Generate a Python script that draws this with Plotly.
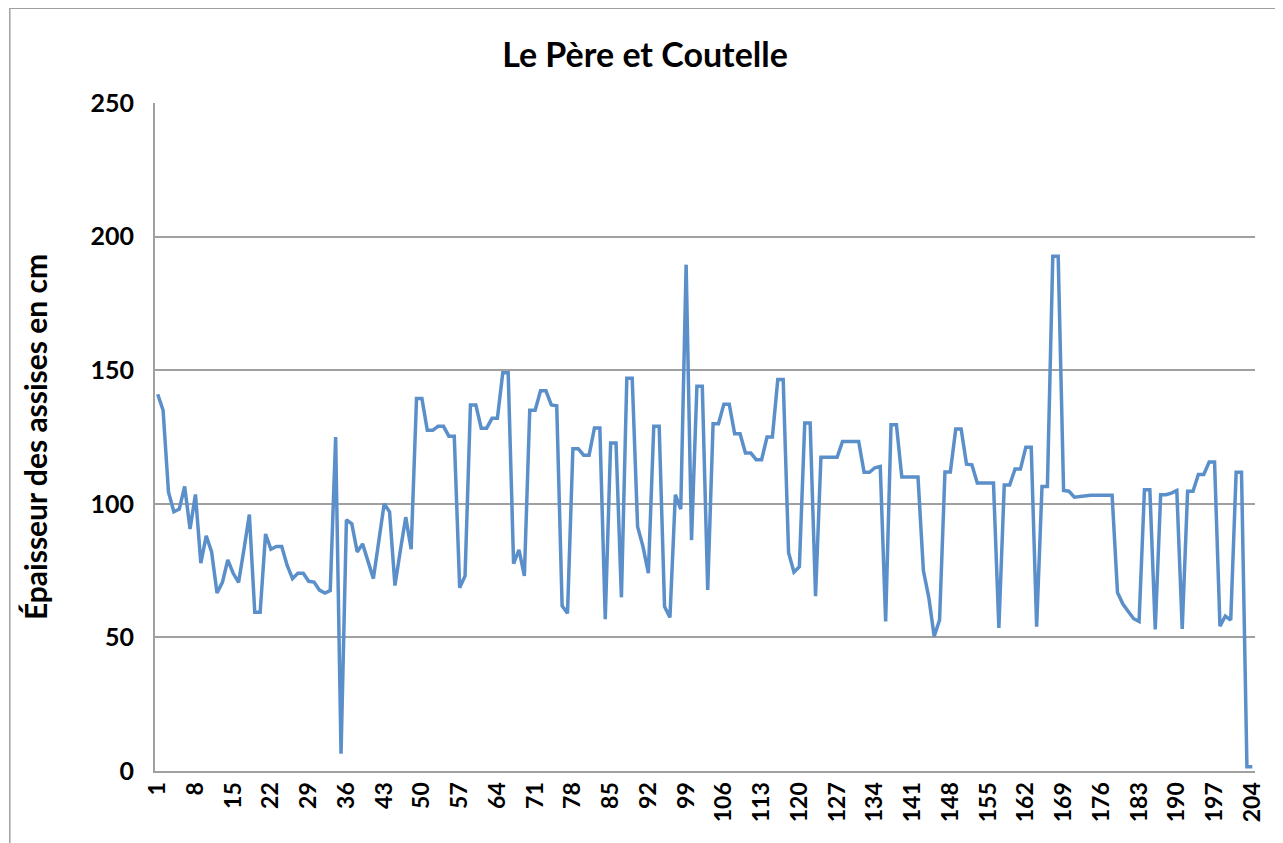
import plotly.graph_objects as go

# thickness of each course (assise)
epaisseur = [
    141, 135, 104.4, 97, 98, 106.5, 90.6, 103.5, 77.8, 88,
    82, 66.6, 70.6, 79, 74, 70.6, 83, 96, 59.4, 59.4,
    88.7, 83, 84, 84, 77, 72, 74, 74, 71, 70.7,
    67.7, 66.6, 67.5, 125, 6.5, 94, 92.5, 82, 85, 78,
    72, 86, 100, 97, 69.4, 82.5, 95, 83, 139.4, 139.4,
    127.5, 127.5, 129, 129, 125.3, 125.3, 68.6, 73, 137, 137,
    128.3, 128.3, 132, 132, 149, 149, 77.6, 82.8, 73, 135,
    135, 142.3, 142.3, 137, 136.7, 61.8, 59, 120.6, 120.6, 118.2,
    118.2, 128.4, 128.4, 56.8, 122.8, 122.8, 65, 147, 147, 91.4,
    84, 74, 129, 129, 61.5, 57.5, 103.4, 98, 189.5, 86.4,
    144, 144, 67.8, 130, 130, 137.3, 137.3, 126.2, 126.2, 119,
    119, 116.5, 116.5, 125, 125, 146.5, 146.5, 81.7, 74.4, 76.4,
    130.2, 130.2, 65.4, 117.4, 117.4, 117.4, 117.4, 123.3, 123.3, 123.3,
    123.3, 111.8, 111.8, 113.5, 114, 56, 129.6, 129.6, 110, 110,
    110, 110, 75, 65, 50.4, 56.5, 111.9, 111.9, 128, 128,
    114.8, 114.6, 107.8, 107.8, 107.8, 107.8, 53.5, 107, 107, 113,
    113, 121.2, 121.2, 54, 106.5, 106.5, 192.6, 192.6, 105, 104.7,
    102.5, 102.8, 103.2, 103.2, 103.2, 103.2, 103.2, 103.2, 66.8, 62.5,
    59.7, 57, 56, 105.3, 105.3, 53, 103.4, 103.4, 104, 105,
    53.2, 104.7, 104.7, 111, 111, 115.6, 115.6, 54.2, 58, 56.5,
    111.8, 111.8, 1.6, 1.6,
]
assise = list(range(1, len(epaisseur) + 1))
x_ticks = list(range(1, 205, 7))
y_ticks = [0, 50, 100, 150, 200, 250]

fig = go.Figure()
fig.add_trace(go.Scatter(x=assise, y=epaisseur, mode='lines',
                         line=dict(color='#5B8FCA', width=3.5), showlegend=False))

fnt = 'Lato, "Open Sans", sans-serif'
fig.update_layout(
    width=1283, height=843,
    margin=dict(l=147, r=36, t=95, b=80),
    paper_bgcolor='white', plot_bgcolor='white',
    font=dict(family=fnt, color='black'),
    title=dict(text='<b>Le Père et Coutelle</b>', x=0.4965, y=0.944,
               xanchor='center', yanchor='middle', font=dict(size=34, family=fnt)),
    xaxis=dict(range=[0.5, 204.5], tickmode='array', tickvals=x_ticks,
               ticktext=['<b>%d</b>' % v for v in x_ticks], tickangle=-90,
               tickfont=dict(size=23), showgrid=False, zeroline=False,
               showline=True, linecolor='#A0A0A0', linewidth=2),
    yaxis=dict(range=[0, 250], tickmode='array', tickvals=y_ticks,
               ticktext=['<b>%d</b>' % v for v in y_ticks],
               tickfont=dict(size=25), ticklabelstandoff=14,
               showgrid=True, gridcolor='#A0A0A0', gridwidth=1.5, zeroline=False,
               showline=True, linecolor='#A0A0A0', linewidth=2),
)

fig.add_annotation(text='<b>Épaisseur des assises en cm</b>', xref='paper', yref='paper',
                   x=-0.109, y=0.5, textangle=-90, showarrow=False,
                   font=dict(size=30, family=fnt), xanchor='center', yanchor='middle')

# outer border of the chart area
fig.add_shape(type='rect', xref='paper', yref='paper', x0=-0.132, x1=1.02, y0=-0.2, y1=1.142,
              line=dict(color='#A0A0A0', width=1.5), layer='below')

fig.write_html("out.html")
